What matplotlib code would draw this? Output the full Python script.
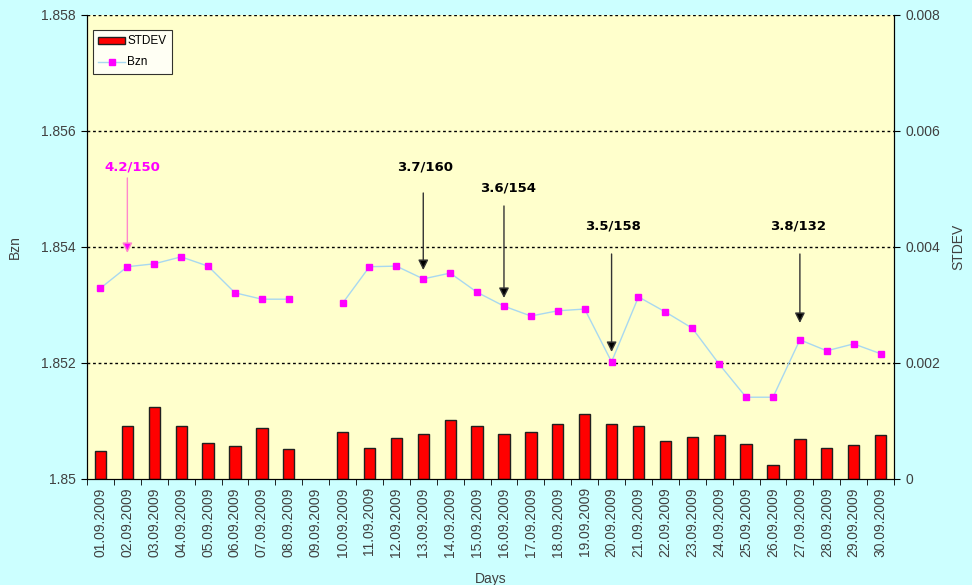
import numpy as np
import matplotlib
matplotlib.use("Agg")
import matplotlib.pyplot as plt

days = ["%02d.09.2009" % d for d in range(1, 31)]

bzn = [1.85329, 1.85366, 1.85371, 1.85383, 1.85367, 1.85321, 1.85310, 1.85310, np.nan, 1.85303,
       1.85366, 1.85367, 1.85345, 1.85355, 1.85322, 1.85298, 1.85281, 1.85290, 1.85293, 1.85202,
       1.85314, 1.85288, 1.85260, 1.85198, 1.85141, 1.85141, 1.85240, 1.85221, 1.85233, 1.85216]

stdev = [0.000483, 0.000919, 0.001241, 0.000919, 0.000616, 0.000569, 0.000874, 0.000512, np.nan, 0.000816,
         0.000540, 0.000702, 0.000776, 0.001012, 0.000919, 0.000776, 0.000810, 0.000941, 0.001120, 0.000941,
         0.000919, 0.000655, 0.000724, 0.000764, 0.000603, 0.000234, 0.000695, 0.000540, 0.000591, 0.000764]

# annotations: label, day index, tip, arrow tail, text y (Bzn units), text x shift
ann_labels = ["4.2/150", "3.7/160", "3.6/154", "3.5/158", "3.8/132"]
ann_idx = [1, 12, 15, 19, 26]
ann_tip = [1.853897, 1.853603, 1.853121, 1.852190, 1.852690]
ann_tail = [1.855190, 1.854931, 1.854707, 1.853879, 1.853879]
ann_text = [1.855379, 1.855379, 1.855017, 1.854362, 1.854362]
ann_dx = [0.2, 0.05, 0.15, 0.05, -0.05]
ann_col = ["#FF00FF", "black", "black", "black", "black"]

x = np.arange(len(days))
grey = "#404040"
plt.rcParams["font.family"] = ["Liberation Sans", "DejaVu Sans"]

fig = plt.figure(figsize=(9.72, 5.85), dpi=100, facecolor="#CCFFFF")
ax = fig.add_axes([0.0895, 0.1812, 0.8303, 0.7932])
ax2 = ax.twinx()
ax.set_zorder(ax2.get_zorder() + 1)
ax.patch.set_visible(False)
ax2.patch.set_visible(True)
ax2.set_facecolor("#FFFFCC")

ax2.bar(x, stdev, width=0.42, color="#FF0000", edgecolor="#202020", linewidth=1.0, label="STDEV")
ax2.set_ylim(0, 0.008)
ax2.set_yticks([0, 0.002, 0.004, 0.006, 0.008])
ax2.set_yticklabels(["0", "0.002", "0.004", "0.006", "0.008"])
ax2.set_ylabel("STDEV", color=grey, fontsize=10, labelpad=8)

ax.plot(x, bzn, color="#A8D8F0", lw=1.0, marker="s", ms=5, mfc="#FF00FF", mec="#FF00FF", label="Bzn")
ax.set_ylim(1.850, 1.858)
ax.set_yticks([1.850, 1.852, 1.854, 1.856, 1.858])
ax.set_yticklabels(["1.85", "1.852", "1.854", "1.856", "1.858"])
ax.set_xlim(-0.5, len(days) - 0.5)
ax.set_xticks(x)
ax.set_xticklabels(days, rotation=90)
ax.set_xticks(np.arange(-0.5, len(days)), minor=True)
ax.tick_params(axis="x", which="major", length=0, pad=6)
ax.tick_params(axis="x", which="minor", length=4, direction="out")
ax.set_ylabel("Bzn", color=grey, fontsize=10, labelpad=14)
ax.set_xlabel("Days", color=grey, fontsize=10)
ax.xaxis.set_label_coords(0.5, -0.2)

for a in (ax, ax2):
    a.tick_params(axis="y", colors=grey, labelsize=10, length=4, direction="out", pad=4)
    a.tick_params(axis="y", color="black")
    a.tick_params(axis="x", colors=grey, labelsize=10)
    a.tick_params(axis="x", which="minor", color="black")
    a.spines["top"].set_visible(False)
ax2.tick_params(axis="x", bottom=False, labelbottom=False)

for yv in [1.852, 1.854, 1.856, 1.858]:
    ax.axhline(yv, color="black", lw=1.0, ls=(0, (2, 2)), zorder=1)

for lab, i, tip, tail, ty, dx, c in zip(ann_labels, ann_idx, ann_tip, ann_tail, ann_text, ann_dx, ann_col):
    lc = "#FF88CC" if c != "black" else "#333333"
    ax.annotate("", xy=(i, tip), xytext=(i, tail),
                arrowprops=dict(arrowstyle="-|>,head_length=0.6,head_width=0.3", fc=c, ec=lc, lw=1.0,
                                mutation_scale=10, shrinkA=0, shrinkB=0))
    ax.text(i + dx, ty, lab, color=c, fontsize=9.5, fontweight="bold",
            family="DejaVu Sans", ha="center", va="center")

h1, l1 = ax2.get_legend_handles_labels()
h2, l2 = ax.get_legend_handles_labels()
leg = ax.legend(h1 + h2, l1 + l2, loc="upper left", bbox_to_anchor=(0.0, 0.98),
                fontsize=8.5, frameon=True, fancybox=False, edgecolor="black",
                handlelength=2.3, handleheight=0.5, borderpad=0.45, labelspacing=0.75,
                handletextpad=0.15, borderaxespad=0.5)
leg.get_frame().set_linewidth(0.8)

fig.savefig("out.png", dpi=100, facecolor=fig.get_facecolor())
